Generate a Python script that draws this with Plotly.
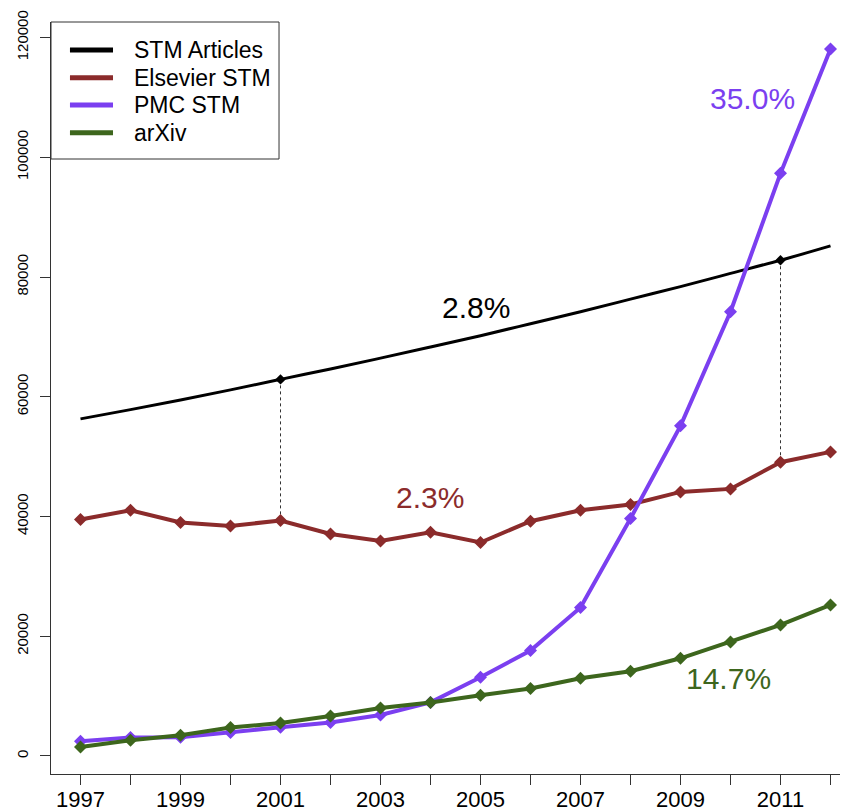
import plotly.graph_objects as go

years = list(range(1997, 2013))
stm_articles = [56300, 57850, 59450, 61150, 62900, 64650, 66450, 68300,
                70200, 72200, 74200, 76300, 78400, 80600, 82800, 85200]
elsevier_stm = [39500, 41050, 39000, 38430, 39330, 37090, 35920, 37380,
                35660, 39210, 41050, 42000, 44110, 44610, 49070, 50790]
pmc_stm = [2460, 3070, 3150, 3910, 4800, 5600, 6850, 8950,
           13150, 17610, 24800, 39670, 55140, 74190, 97310, 118080]
arxiv = [1500, 2620, 3460, 4740, 5510, 6680, 8020, 8950,
         10140, 11260, 12980, 14150, 16320, 19050, 21890, 25230]
series_names = ["STM Articles", "Elsevier STM", "PMC STM", "arXiv"]
compare_years = [2001, 2011]
growth_labels = ["2.8%", "2.3%", "35.0%", "14.7%"]
label_x = [2004.9, 2003.98, 2010.44, 2009.96]
label_y = [74900, 43200, 109800, 12900]
y_ticks = [0, 20000, 40000, 60000, 80000, 100000, 120000]
x_labels = [str(y) if y % 2 == 1 else "" for y in years]

C_BLACK = "#000000"
C_ELS = "#8b2b2b"
C_PMC = "#7b3ff0"
C_ARX = "#3d661d"
colors = [C_BLACK, C_ELS, C_PMC, C_ARX]
FONT = "Liberation Sans, Arial, Helvetica, sans-serif"

fig = go.Figure()

# dotted connectors
cx, cy = [], []
for yr in compare_years:
    i = years.index(yr)
    cx += [yr, yr, None]
    cy += [stm_articles[i], elsevier_stm[i], None]
fig.add_trace(go.Scatter(x=cx, y=cy, mode="lines", showlegend=False,
                         line=dict(color="#333333", width=1, dash="3px,3px"),
                         hoverinfo="skip"))

# STM Articles curve
fig.add_trace(go.Scatter(x=years, y=stm_articles, mode="lines", name=series_names[0],
                         showlegend=False,
                         line=dict(color=C_BLACK, width=3, shape="spline")))
fig.add_trace(go.Scatter(x=compare_years,
                         y=[stm_articles[years.index(y)] for y in compare_years],
                         mode="markers", showlegend=False, name=series_names[0],
                         marker=dict(symbol="diamond", size=8, color=C_BLACK)))

for vals, col, nm in [(elsevier_stm, C_ELS, series_names[1]),
                      (pmc_stm, C_PMC, series_names[2]),
                      (arxiv, C_ARX, series_names[3])]:
    fig.add_trace(go.Scatter(x=years, y=vals, mode="lines+markers", name=nm,
                             showlegend=False,
                             line=dict(color=col, width=4),
                             marker=dict(symbol="diamond", size=10, color=col)))

for t, x, y, c in zip(growth_labels, label_x, label_y, colors):
    fig.add_annotation(x=x, y=y, text=t, showarrow=False,
                       font=dict(size=30, color=c, family=FONT),
                       xanchor="center", yanchor="middle")

# legend box (drawn in paper coordinates)
fig.add_shape(type="rect", xref="paper", yref="paper", x0=0, x1=0.2861,
              y0=0.8178, y1=1.0, line=dict(color="#333333", width=1),
              fillcolor="white", layer="above")
legend_rows = [0.9628, 0.9259, 0.8896, 0.8528]
for nm, col, ry in zip(series_names, colors, legend_rows):
    fig.add_shape(type="line", xref="paper", yref="paper", x0=0.0238, x1=0.0778,
                  y0=ry, y1=ry, line=dict(color=col, width=5), layer="above")
    fig.add_annotation(xref="paper", yref="paper", x=0.1017, y=ry, text=nm,
                       showarrow=False, xanchor="left", yanchor="middle",
                       font=dict(size=23, color="black", family=FONT))

# page body has an 8px margin, so the figure is 8px smaller
fig.update_layout(
    width=840, height=803,
    margin=dict(l=43, r=0, t=14, b=37, autoexpand=False),
    paper_bgcolor="white", plot_bgcolor="white",
    font=dict(family=FONT, color="black"),
    showlegend=False,
)
fig.update_xaxes(range=[1996.41, 2012.35], tickvals=years, ticktext=x_labels,
                 automargin=False,
                 showgrid=False, zeroline=False, showline=True,
                 linecolor="#333333", linewidth=1, ticks="outside", ticklen=10,
                 tickcolor="#333333", tickfont=dict(size=22, color="black"),
                 ticklabelstandoff=-4)
fig.update_yaxes(range=[-3008, 122590], tickvals=y_ticks,
                 ticktext=[str(v) for v in y_ticks], tickangle=-90,
                 automargin=False,
                 showgrid=False, zeroline=False, showline=True,
                 linecolor="#333333", linewidth=1, ticks="outside", ticklen=10,
                 tickcolor="#333333", tickfont=dict(size=15, color="black"),
                 ticklabelstandoff=6)

fig.write_html("out.html")
